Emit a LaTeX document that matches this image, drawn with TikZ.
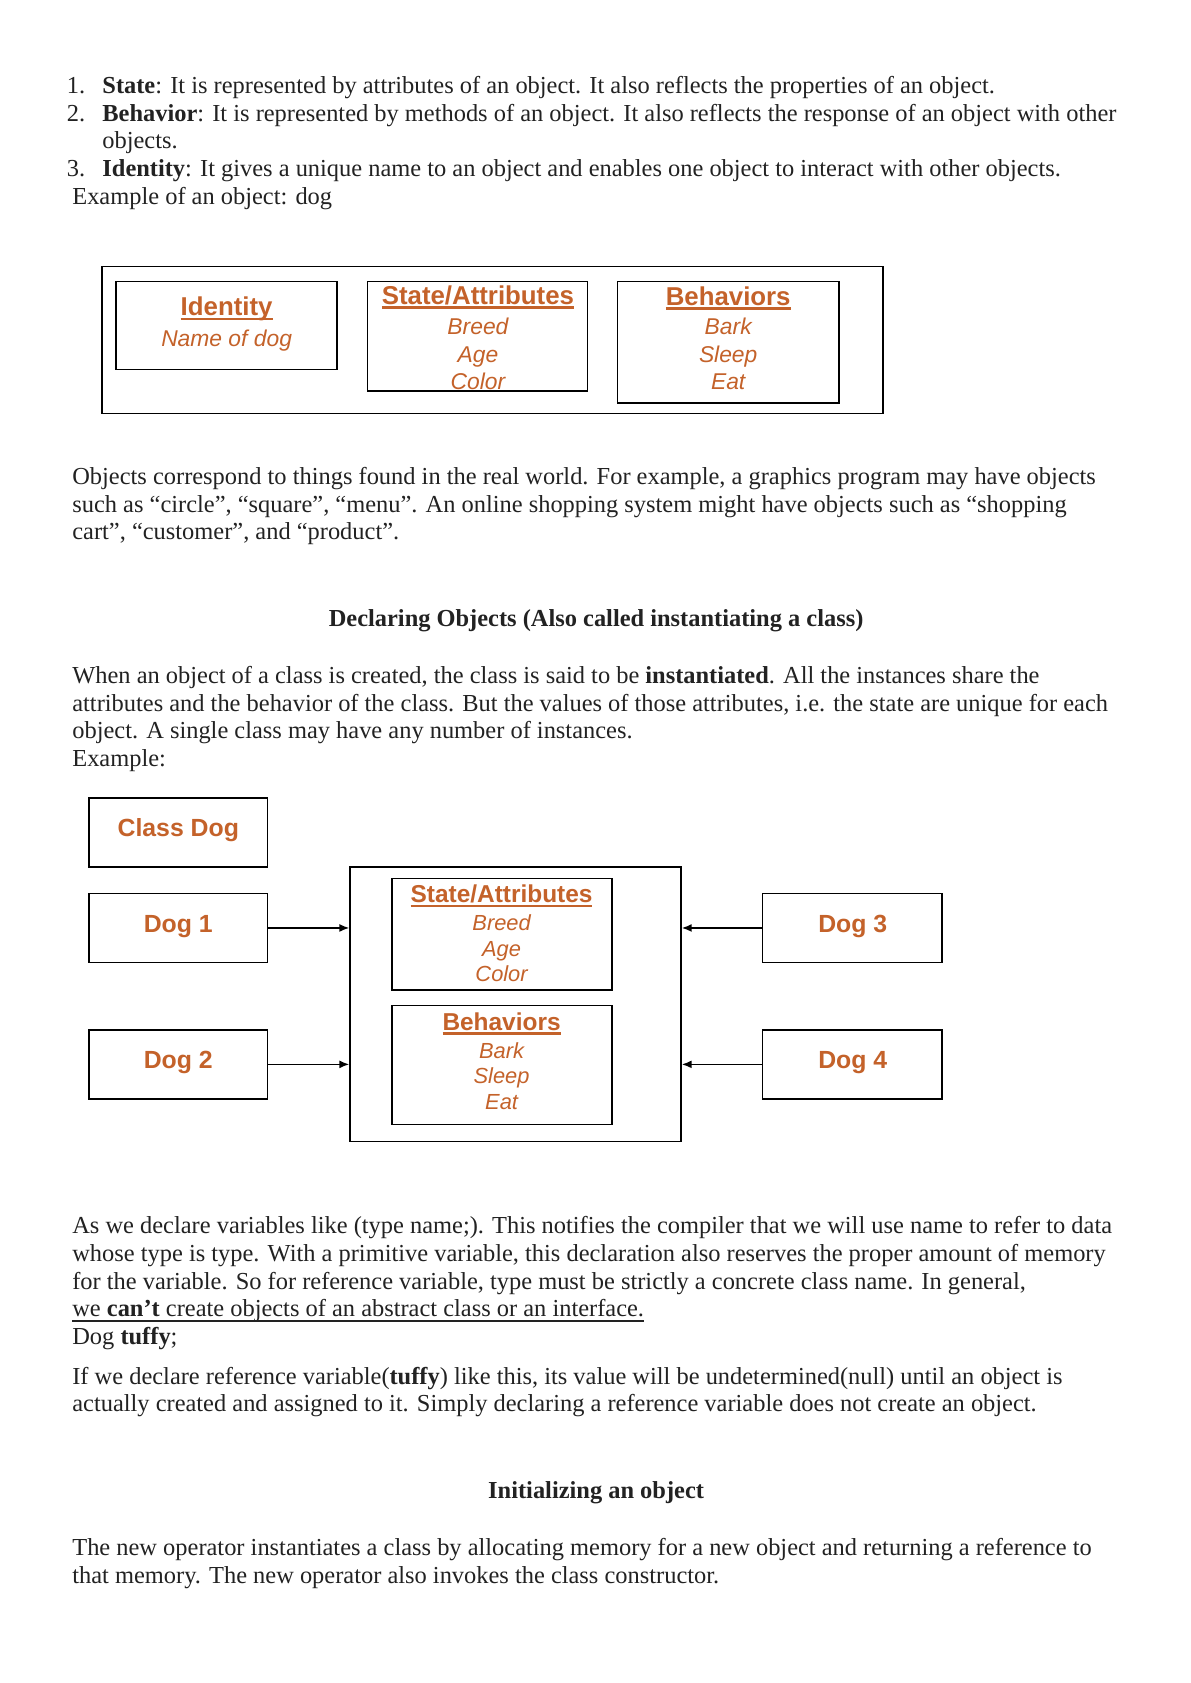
\documentclass[tikz,border=0pt]{standalone}
\usepackage{fontspec}
\setmainfont{Liberation Serif}
\newfontfamily\diafont{Liberation Sans}
\usetikzlibrary{arrows.meta}
\definecolor{orng}{RGB}{196,98,42}
\definecolor{txt}{RGB}{34,34,34}
\newcommand{\orul}[1]{\setbox0=\hbox{#1}\rlap{\rule[-2.2pt]{\wd0}{1.1pt}}\box0}
\newcommand{\bodyul}[1]{\setbox0=\hbox{#1}\rlap{\rule[-2.3pt]{\wd0}{0.55pt}}\box0}
\tikzset{
  txtshift/.style={yshift=-1.6pt},
  body/.style={txtshift, anchor=mid west, inner sep=0pt, text=txt, font=\fontsize{12.3}{14}\selectfont},
  head/.style={txtshift, anchor=mid, inner sep=0pt, text=txt, font=\fontsize{12.3}{14}\selectfont\bfseries},
  frame/.style={draw=black, line width=0.8pt, fill=none},
  ttl/.style={txtshift, anchor=mid, inner sep=0pt, text=orng, font=\diafont\fontsize{13}{15}\selectfont\bfseries},
  itm/.style={txtshift, anchor=mid, inner sep=0pt, text=orng, font=\diafont\fontsize{11.5}{13}\selectfont\itshape},
  ttlb/.style={txtshift, anchor=mid, inner sep=0pt, text=orng, font=\diafont\fontsize{12.3}{15}\selectfont\bfseries},
  itmb/.style={txtshift, anchor=mid, inner sep=0pt, text=orng, font=\diafont\fontsize{11}{13}\selectfont\itshape},
  dog/.style={txtshift, anchor=mid, inner sep=0pt, text=orng, font=\diafont\fontsize{12.5}{15}\selectfont\bfseries},
  arr/.style={line width=0.8pt, -{Latex[length=5pt,width=4pt]}},
}
\begin{document}
\begin{tikzpicture}[x=0.5409pt, y=-0.5409pt]
\useasboundingbox[fill=white] (0,0) rectangle (1108,1567);
% top text
\node[body] (n1) at (62,80) {1.};
\node[body] (l1) at (95,80) {\textbf{State}: It is represented by attributes of an object. It also reflects the properties of an object.};
\node[body] (n2) at (62,106) {2.};
\node[body] (l2) at (95,106) {\textbf{Behavior}: It is represented by methods of an object. It also reflects the response of an object with other};
\node[body] (l2b) at (95,131) {objects.};
\node[body] (n3) at (62,157) {3.};
\node[body] (l3) at (95,157) {\textbf{Identity}: It gives a unique name to an object and enables one object to interact with other objects.};
\node[body] (l4) at (67,183) {Example of an object: dog};
% top diagram
\node[frame, minimum width=727*0.5409pt, minimum height=137*0.5409pt] (outer) at (458.5,316.5) {};
\node[frame, minimum width=206*0.5409pt, minimum height=82*0.5409pt] (idb) at (211,303) {};
\node[frame, minimum width=205*0.5409pt, minimum height=102*0.5409pt] (stb) at (444.5,313) {};
\node[frame, minimum width=206*0.5409pt, minimum height=113*0.5409pt] (bhb) at (678,318.5) {};
\node[ttl] (idt) at (211,287) {\orul{Identity}};
\node[itm] (idn) at (211,315) {Name of dog};
\node[ttl] (stt) at (445,276) {\orul{State/Attributes}};
\node[itm] (st1) at (445,304) {Breed};
\node[itm] (st2) at (445,330) {Age};
\node[itm] (st3) at (445,355) {Color};
\node[ttl] (bht) at (678,277) {\orul{Behaviors}};
\node[itm] (bh1) at (678,304) {Bark};
\node[itm] (bh2) at (678,330) {Sleep};
\node[itm] (bh3) at (678,355) {Eat};
% paragraph
\node[body] (p1) at (67,444) {Objects correspond to things found in the real world. For example, a graphics program may have objects};
\node[body] (p2) at (67,470) {such as “circle”, “square”, “menu”. An online shopping system might have objects such as “shopping};
\node[body] (p3) at (67,495) {cart”, “customer”, and “product”.};
\node[head] (h1) at (555,576) {Declaring Objects (Also called instantiating a class)};
\node[body] (q1) at (67,629) {When an object of a class is created, the class is said to be \textbf{instantiated}. All the instances share the};
\node[body] (q2) at (67,655) {attributes and the behavior of the class. But the values of those attributes, i.e. the state are unique for each};
\node[body] (q3) at (67,680) {object. A single class may have any number of instances.};
\node[body] (q4) at (67,706) {Example:};
% lower diagram
\node[frame, minimum width=166*0.5409pt, minimum height=64*0.5409pt] (cls) at (166,775) {};
\node[dog] (clst) at (166,772) {Class Dog};
\node[frame, minimum width=166*0.5409pt, minimum height=64*0.5409pt] (d1) at (166,864) {};
\node[dog] (d1t) at (166,861) {Dog 1};
\node[frame, minimum width=166*0.5409pt, minimum height=64*0.5409pt] (d2) at (166,991) {};
\node[dog] (d2t) at (166,988) {Dog 2};
\node[frame, minimum width=167*0.5409pt, minimum height=64*0.5409pt] (d3) at (793.5,864) {};
\node[dog] (d3t) at (794,861) {Dog 3};
\node[frame, minimum width=167*0.5409pt, minimum height=64*0.5409pt] (d4) at (793.5,991) {};
\node[dog] (d4t) at (794,988) {Dog 4};
\node[frame, minimum width=308*0.5409pt, minimum height=256*0.5409pt] (big) at (480,935) {};
\node[frame, minimum width=205*0.5409pt, minimum height=104*0.5409pt] (sb) at (467.5,870) {};
\node[frame, minimum width=205*0.5409pt, minimum height=111*0.5409pt] (bb) at (467.5,991.5) {};
\node[ttlb] (sbt) at (467,833) {\orul{State/Attributes}};
\node[itmb] (sb1) at (467,859) {Breed};
\node[itmb] (sb2) at (467,883) {Age};
\node[itmb] (sb3) at (467,907) {Color};
\node[ttlb] (bbt) at (467,952) {\orul{Behaviors}};
\node[itmb] (bb1) at (467,978) {Bark};
\node[itmb] (bb2) at (467,1002) {Sleep};
\node[itmb] (bb3) at (467,1026) {Eat};
\draw[arr] (d1.east) -- (d1.east -| big.west);
\draw[arr] (d2.east) -- (d2.east -| big.west);
\draw[arr] (d3.west) -- (d3.west -| big.east);
\draw[arr] (d4.west) -- (d4.west -| big.east);
% lower text
\node[body] (r1) at (67,1141) {As we declare variables like (type name;). This notifies the compiler that we will use name to refer to data};
\node[body] (r2) at (67,1167) {whose type is type. With a primitive variable, this declaration also reserves the proper amount of memory};
\node[body] (r3) at (67,1193) {for the variable. So for reference variable, type must be strictly a concrete class name. In general,};
\node[body] (r4) at (67,1219) {\bodyul{we \textbf{can’t} create objects of an abstract class or an interface.}};
\node[body] (r5) at (67,1245) {Dog \textbf{tuffy};};
\node[body] (s1) at (67,1282) {If we declare reference variable(\textbf{tuffy}) like this, its value will be undetermined(null) until an object is};
\node[body] (s2) at (67,1307) {actually created and assigned to it. Simply declaring a reference variable does not create an object.};
\node[head] (h2) at (555,1388) {Initializing an object};
\node[body] (t1) at (67,1441) {The new operator instantiates a class by allocating memory for a new object and returning a reference to};
\node[body] (t2) at (67,1467) {that memory. The new operator also invokes the class constructor.};
\end{tikzpicture}
\end{document}
